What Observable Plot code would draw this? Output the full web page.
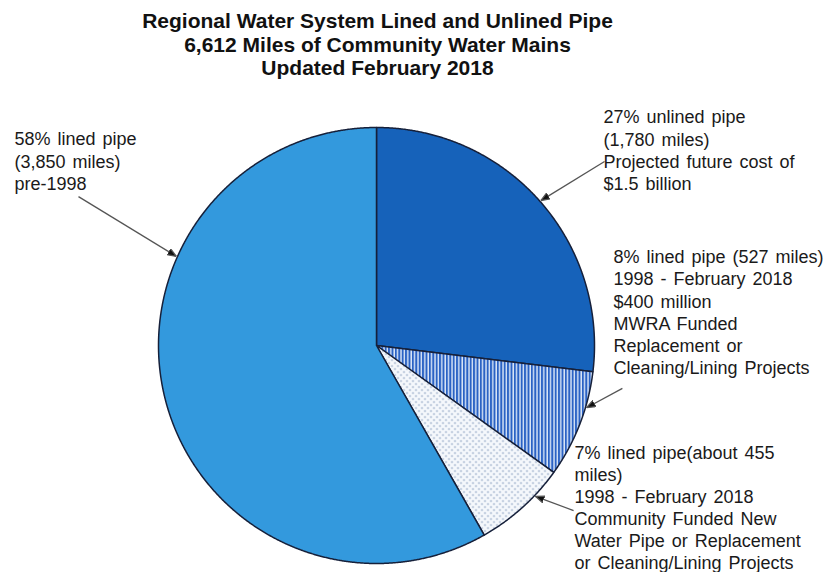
<!DOCTYPE html>
<html><head><meta charset="utf-8">
<script src="https://cdn.jsdelivr.net/npm/d3@7"></script>
<script src="https://cdn.jsdelivr.net/npm/@observablehq/plot@0.6"></script>
<style>
body{margin:0;background:#fff;}
#title{width:825px;height:88px;box-sizing:border-box;padding-top:9px;padding-right:70px;text-align:center;
  font-family:"Liberation Sans Narrow","Arial Narrow","Liberation Sans",Arial,sans-serif;font-weight:bold;font-size:21px;line-height:23.5px;color:#111;}
#chart svg text{word-spacing:2px;}
</style></head><body>
<div id="title"></div>
<div id="chart"></div>
<script>
// ---- data ----
const titleLines = ["Regional Water System Lined and Unlined Pipe", "6,612 Miles of Community Water Mains", "Updated February 2018"];
const categories = ["Unlined pipe", "Lined pipe 1998-2018 (MWRA funded)", "Lined pipe 1998-2018 (community funded)", "Lined pipe pre-1998"];
const miles = [1780, 527, 455, 3850];
const labelTexts = [
  "27% unlined pipe\n(1,780 miles)\nProjected future cost of\n$1.5 billion",
  "8% lined pipe (527 miles)\n1998 - February 2018\n$400 million\nMWRA Funded\nReplacement or\nCleaning/Lining Projects",
  "7% lined pipe(about 455\nmiles)\n1998 - February 2018\nCommunity Funded New\nWater Pipe or Replacement\nor Cleaning/Lining Projects",
  "58% lined pipe\n(3,850 miles)\npre-1998"
];

// ---- layout (radius units, relative to pie centre) ----
const W = 825, H = 484, cx = 376, cy = 257, R = 218;
const labelPos = [[1.041, 1.091], [1.087, 0.449], [0.908, -0.447], [-1.661, 0.990]];
const arrowStart = [[1.046, 0.844], [1.128, -0.197], [0.904, -0.757], [-1.367, 0.683]];
const arrowAngleDeg = [48.6, 106.5, 133.5, 294];
const sliceFills = ["#1662ba", "url(#stripes)", "url(#dots)", "#3399dd"];

document.getElementById("title").innerHTML = titleLines.map(t => `<div>${t}</div>`).join("");

const arcs = d3.pie().sort(null).value(d => d)(miles);
const slicePts = arcs.flatMap((a, i) => {
  const n = Math.max(2, Math.ceil((a.endAngle - a.startAngle) / (Math.PI / 720)));
  const pts = [{slice: i, x: 0, y: 0}];
  for (let k = 0; k <= n; k++) {
    const t = a.startAngle + (a.endAngle - a.startAngle) * k / n;
    pts.push({slice: i, x: Math.sin(t), y: Math.cos(t)});
  }
  pts.push({slice: i, x: 0, y: 0});
  return pts;
});

const labels = categories.map((c, i) => ({category: c, text: labelTexts[i], x: labelPos[i][0], y: labelPos[i][1]}));
const arrows = categories.map((c, i) => {
  const t = arrowAngleDeg[i] * Math.PI / 180;
  return {category: c, x1: arrowStart[i][0], y1: arrowStart[i][1], x2: Math.sin(t) * 1.005, y2: Math.cos(t) * 1.005};
});

const arrowHead = (color, context) => {
  const m = d3.create("svg:marker")
    .attr("viewBox", "0 -4 9 8").attr("markerWidth", 9).attr("markerHeight", 8)
    .attr("refX", 9).attr("refY", 0).attr("orient", "auto").attr("markerUnits", "userSpaceOnUse");
  m.append("path").attr("d", "M0,-3.5L9,0L0,3.5Z").attr("fill", "#111");
  return m.node();
};

const svg = Plot.plot({
  width: W, height: H, margin: 0, axis: null,
  x: {domain: [-cx / R, (W - cx) / R], range: [0, W]},
  y: {domain: [-(H - cy) / R, cy / R], range: [H, 0]},
  style: {fontFamily: "'Liberation Sans', Arial, sans-serif", background: "#fff"},
  marks: [
    ...sliceFills.map((f, i) => Plot.line(slicePts.filter(d => d.slice === i), {
      x: "x", y: "y", fill: f, stroke: "#16203a", strokeWidth: 1.5, strokeLinejoin: "round"
    })),
    Plot.link(arrows, {x1: "x1", y1: "y1", x2: "x2", y2: "y2", stroke: "#555", strokeWidth: 1.3, markerEnd: arrowHead}),
    Plot.text(labels, {x: "x", y: "y", text: "text", textAnchor: "start", lineAnchor: "top",
      fontSize: 18, lineHeight: 1.23, fill: "#1a1a1a"})
  ]
});

const defs = d3.select(svg).insert("defs", ":first-child");
const st = defs.append("pattern").attr("id", "stripes").attr("patternUnits", "userSpaceOnUse")
  .attr("width", 3.4).attr("height", 10);
st.append("rect").attr("width", 3.4).attr("height", 10).attr("fill", "#dce8f8");
st.append("rect").attr("width", 2).attr("height", 10).attr("fill", "#2a62c4");
const dt = defs.append("pattern").attr("id", "dots").attr("patternUnits", "userSpaceOnUse")
  .attr("width", 6).attr("height", 6);
dt.append("rect").attr("width", 6).attr("height", 6).attr("fill", "#f5f8fc");
dt.append("circle").attr("cx", 1.5).attr("cy", 1.5).attr("r", 0.85).attr("fill", "#7f96b8");
dt.append("circle").attr("cx", 4.5).attr("cy", 4.5).attr("r", 0.85).attr("fill", "#7f96b8");

document.getElementById("chart").appendChild(svg);
</script>
</body></html>
